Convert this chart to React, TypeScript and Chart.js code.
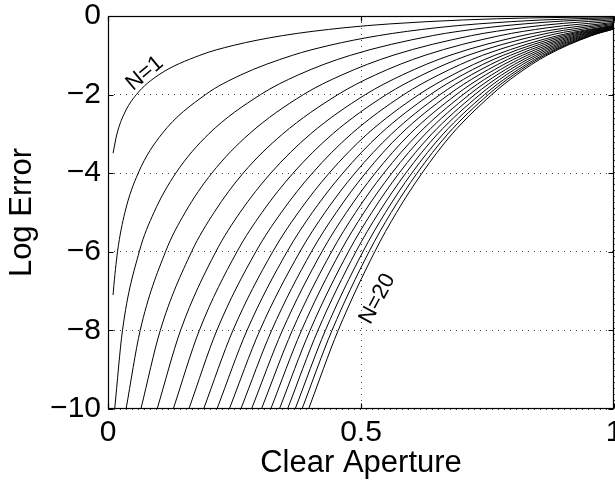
import React, { useEffect, useRef } from 'react';
import { Chart, registerables } from 'chart.js';

Chart.register(...registerables);

// Curves: [clear aperture, log error]
const n1 = [[0.01, -3.49], [0.0177, -3], [0.0315, -2.5], [0.056, -2], [0.1, -1.5], [0.1815, -1], [0.2474, -0.75], [0.3446, -0.5], [0.4662, -0.3], [0.558, -0.2], [0.703, -0.1], [0.833, -0.05], [1, -0.018]];
const n2 = [[0.01, -7.1], [0.0106, -7], [0.0188, -6], [0.0334, -5], [0.0596, -4], [0.1065, -3], [0.1927, -2], [0.2625, -1.5], [0.3646, -1], [0.4367, -0.75], [0.5342, -0.5], [0.6485, -0.3], [0.732, -0.2], [0.8595, -0.1], [1, -0.042]];
const n3 = [[0.0132, -10], [0.0286, -8], [0.0617, -6], [0.0908, -5], [0.1339, -4], [0.1992, -3], [0.3014, -2], [0.3758, -1.5], [0.4791, -1], [0.6411, -0.5], [0.7464, -0.3], [0.8231, -0.2], [0.9, -0.128], [1, -0.067]];
const n4 = [[0.0357, -10], [0.0636, -8], [0.1136, -6], [0.1524, -5], [0.2051, -4], [0.2791, -3], [0.3861, -2], [0.4622, -1.5], [0.5633, -1], [0.7181, -0.5], [0.8173, -0.3], [0.9, -0.187], [1, -0.098]];
const n5 = [[0.065, -10], [0.1033, -8], [0.1651, -6], [0.2096, -5], [0.267, -4], [0.3454, -3], [0.4544, -2], [0.5282, -1.5], [0.6264, -1], [0.7744, -0.5], [0.868, -0.3], [0.9, -0.249], [1, -0.13]];
const n6 = [[0.0971, -10], [0.1434, -8], [0.213, -6], [0.2609, -5], [0.3216, -4], [0.4004, -3], [0.5086, -2], [0.5817, -1.5], [0.6759, -1], [0.818, -0.5], [0.9, -0.3135], [1, -0.163]];
const n7 = [[0.1289, -10], [0.1805, -8], [0.2548, -6], [0.3043, -5], [0.3657, -4], [0.4439, -3], [0.5501, -2], [0.6211, -1.5], [0.7113, -1], [0.8466, -0.5], [0.9, -0.365], [1, -0.188]];
const n8 = [[0.1598, -10], [0.2151, -8], [0.2921, -6], [0.3424, -5], [0.4038, -4], [0.4809, -3], [0.5846, -2], [0.6533, -1.5], [0.7402, -1], [0.8697, -0.5], [0.9, -0.416], [1, -0.2115]];
const n9 = [[0.1889, -10], [0.2469, -8], [0.3255, -6], [0.376, -5], [0.4369, -4], [0.5126, -3], [0.6143, -2], [0.6808, -1.5], [0.7645, -1], [0.8886, -0.5], [1, -0.234]];
const n10 = [[0.2153, -10], [0.2747, -8], [0.3538, -6], [0.4038, -5], [0.464, -4], [0.538, -3], [0.6369, -2], [0.7006, -1.5], [0.7811, -1], [0.9, -0.5], [1, -0.247]];
const n11 = [[0.2397, -10], [0.3001, -8], [0.3792, -6], [0.4287, -5], [0.4879, -4], [0.5605, -3], [0.6562, -2], [0.7177, -1.5], [0.7954, -1], [0.9098, -0.5], [1, -0.258]];
const n12 = [[0.2625, -10], [0.3234, -8], [0.4019, -6], [0.451, -5], [0.5087, -4], [0.5789, -3], [0.6733, -2], [0.7329, -1.5], [0.8079, -1], [0.9182, -0.5], [1, -0.269]];
const n13 = [[0.2836, -10], [0.3447, -8], [0.4227, -6], [0.4711, -5], [0.528, -4], [0.5967, -3], [0.6883, -2], [0.7461, -1.5], [0.8188, -1], [0.9254, -0.5], [1, -0.279]];
const n14 = [[0.3032, -10], [0.3643, -8], [0.4418, -6], [0.4892, -5], [0.5451, -4], [0.613, -3], [0.7017, -2], [0.758, -1.5], [0.8285, -1], [0.9318, -0.5], [1, -0.289]];
const n15 = [[0.3216, -10], [0.3824, -8], [0.459, -6], [0.5059, -5], [0.5609, -4], [0.6272, -3], [0.714, -2], [0.7686, -1.5], [0.8372, -1], [0.9374, -0.5], [1, -0.298]];
const n16 = [[0.3387, -10], [0.3993, -8], [0.4751, -6], [0.5213, -5], [0.5752, -4], [0.64, -3], [0.7249, -2], [0.7781, -1.5], [0.845, -1], [0.9424, -0.5], [1, -0.307]];
const n17 = [[0.3548, -10], [0.4149, -8], [0.4898, -6], [0.5353, -5], [0.5884, -4], [0.6515, -3], [0.735, -2], [0.7869, -1.5], [0.852, -1], [0.947, -0.5], [1, -0.316]];
const n18 = [[0.3698, -10], [0.4296, -8], [0.5037, -6], [0.5483, -5], [0.6003, -4], [0.6625, -3], [0.7441, -2], [0.7949, -1.5], [0.8585, -1], [0.951, -0.5], [1, -0.324]];
const n19 = [[0.3834, -10], [0.4427, -8], [0.5158, -6], [0.5596, -5], [0.6108, -4], [0.6717, -3], [0.7516, -2], [0.8012, -1.5], [0.8632, -1], [0.9534, -0.5], [1, -0.328]];
const n20 = [[0.3964, -10], [0.4549, -8], [0.5271, -6], [0.5702, -5], [0.6205, -4], [0.6801, -3], [0.7585, -2], [0.807, -1.5], [0.8676, -1], [0.9557, -0.5], [1, -0.331]];

const curves = [n1, n2, n3, n4, n5, n6, n7, n8, n9, n10, n11, n12, n13, n14, n15, n16, n17, n18, n19, n20];

const xTicks = [0, 0.5, 1];
const yTicks = [-10, -8, -6, -4, -2, 0];
const xTitle = 'Clear Aperture';
const yTitle = 'Log Error';
const curveLabels = [
  { text: 'N=1', x: 0.0725, y: -1.46, angle: -40 },
  { text: 'N=20', x: 0.5325, y: -7.2, angle: -62 },
];

const FONT = "'Liberation Sans', Arial, Helvetica, sans-serif";

const fmt = (v: number) => {
  const s = String(Math.round(v * 100) / 100);
  return s.replace('-', '\u2212');
};

const framePlugin = {
  id: 'frame',
  afterDatasetsDraw(chart: any) {
    const { ctx, chartArea: a, scales } = chart;
    ctx.save();
    ctx.strokeStyle = '#000';
    ctx.lineWidth = 1.2;
    const L = Math.round(a.left) + 0.5;
    const R = Math.round(a.right) - 0.5;
    const T = Math.round(a.top) + 0.5;
    const B = Math.round(a.bottom) - 0.5;
    ctx.strokeRect(L, T, R - L, B - T);
    const tl = 5;
    ctx.beginPath();
    for (const v of xTicks) {
      const px = Math.round(scales.x.getPixelForValue(v)) + 0.5;
      ctx.moveTo(px, B); ctx.lineTo(px, B - tl);
      ctx.moveTo(px, T); ctx.lineTo(px, T + tl);
    }
    for (const v of yTicks) {
      const py = Math.round(scales.y.getPixelForValue(v)) + 0.5;
      ctx.moveTo(L, py); ctx.lineTo(L + tl, py);
      ctx.moveTo(R, py); ctx.lineTo(R - tl, py);
    }
    ctx.stroke();
    ctx.fillStyle = '#000';
    ctx.font = `22px ${FONT}`;
    ctx.textAlign = 'center';
    ctx.textBaseline = 'middle';
    for (const lb of curveLabels) {
      const px = scales.x.getPixelForValue(lb.x);
      const py = scales.y.getPixelForValue(lb.y);
      ctx.save();
      ctx.translate(px, py);
      ctx.rotate((lb.angle * Math.PI) / 180);
      ctx.fillText(lb.text, 0, 0);
      ctx.restore();
    }
    ctx.restore();
  },
};

export default function App() {
  const ref = useRef<HTMLCanvasElement | null>(null);
  useEffect(() => {
    if (!ref.current) return;
    const chart = new Chart(ref.current, {
      type: 'line',
      data: {
        datasets: curves.map((c, i) => ({
          label: `N=${i + 1}`,
          data: c.map(([x, y]) => ({ x, y })),
          borderColor: '#000',
          borderWidth: 1,
          pointRadius: 0,
          fill: false,
          cubicInterpolationMode: 'monotone' as const,
        })),
      },
      options: {
        animation: false,
        responsive: false,
        maintainAspectRatio: false,
        events: [],
        layout: { padding: { top: 16, right: 1, left: 0, bottom: 0 } },
        plugins: { legend: { display: false }, tooltip: { enabled: false } },
        scales: {
          x: {
            type: 'linear',
            min: 0,
            max: 1,
            afterBuildTicks: (s: any) => { s.ticks = xTicks.map((v) => ({ value: v })); },
            afterFit: (s: any) => { s.height = 75; s.paddingLeft = 0; s.paddingRight = 0; },
            ticks: {
              font: { family: FONT, size: 30 },
              color: '#000',
              padding: 6,
              maxRotation: 0,
              autoSkip: false,
              callback: (v: any) => fmt(Number(v)),
            },
            grid: { color: '#444', lineWidth: 1, drawTicks: false },
            border: { display: false, dash: [1, 5] },
            title: { display: true, text: xTitle, font: { family: FONT, size: 31 }, color: '#000', padding: { top: 0, bottom: 2 } },
          },
          y: {
            type: 'linear',
            min: -10,
            max: 0,
            afterBuildTicks: (s: any) => { s.ticks = yTicks.map((v) => ({ value: v })); },
            afterFit: (s: any) => { s.width = 108; s.paddingTop = 0; s.paddingBottom = 0; },
            ticks: {
              font: { family: FONT, size: 30 },
              color: '#000',
              padding: 7,
              autoSkip: false,
              callback: (v: any) => fmt(Number(v)),
            },
            grid: { color: '#444', lineWidth: 1, drawTicks: false },
            border: { display: false, dash: [1, 5] },
            title: { display: true, text: yTitle, font: { family: FONT, size: 31 }, color: '#000', padding: { top: 4, bottom: 0 } },
          },
        },
      },
      plugins: [framePlugin],
    } as any);
    return () => chart.destroy();
  }, []);
  return (
    <div style={{ position: 'absolute', left: 0, top: 0, width: 615, height: 484, background: '#fff' }}>
      <canvas ref={ref} width={615} height={484} style={{ width: 615, height: 484, display: 'block' }} />
    </div>
  );
}
